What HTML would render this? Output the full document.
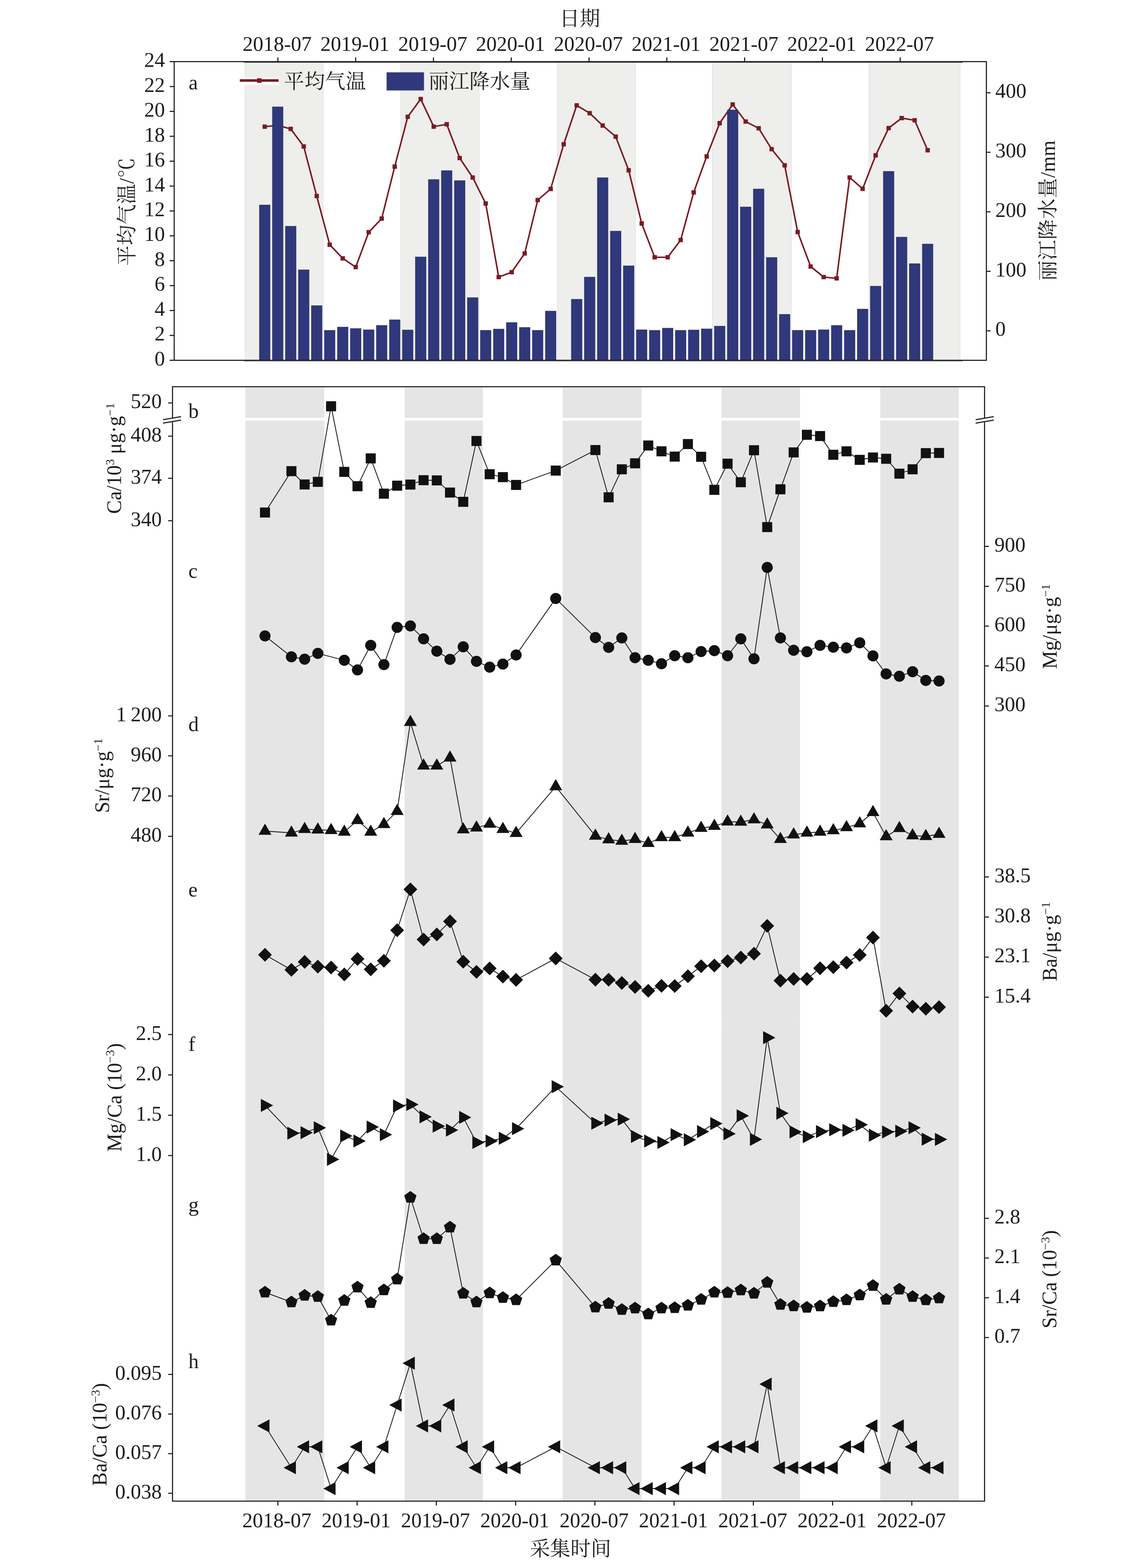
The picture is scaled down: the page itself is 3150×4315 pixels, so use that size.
<!DOCTYPE html>
<html lang="zh"><head><meta charset="utf-8"><title>chart</title>
<style>html,body{margin:0;padding:0;background:#fff}body{width:3150px;height:4315px;overflow:hidden;font-family:"Liberation Serif",serif}</style>
</head><body>
<svg width="3150" height="4315" viewBox="0 0 3150 4315" font-family="'Liberation Serif', serif" fill="#211d1e" style="display:block;font-kerning:none;will-change:transform">
<rect x="674.20" y="170.60" width="215.10" height="820.90" fill="#eeeeec" stroke="#dedede" stroke-width="1.2"/>
<rect x="1102.50" y="170.60" width="216.00" height="820.90" fill="#eeeeec" stroke="#dedede" stroke-width="1.2"/>
<rect x="1533.00" y="170.60" width="215.50" height="820.90" fill="#eeeeec" stroke="#dedede" stroke-width="1.2"/>
<rect x="1959.50" y="170.60" width="218.00" height="820.90" fill="#eeeeec" stroke="#dedede" stroke-width="1.2"/>
<rect x="2390.50" y="170.60" width="251.00" height="820.90" fill="#eeeeec" stroke="#dedede" stroke-width="1.2"/>
<polyline points="728.3,348.6 764.1,345.0 799.8,354.7 835.6,403.0 871.3,539.5 907.1,673.5 942.9,711.0 978.6,735.0 1014.4,639.0 1050.1,601.5 1085.9,458.5 1121.7,321.5 1157.4,272.5 1193.2,348.5 1228.9,342.0 1264.7,435.0 1300.5,488.5 1336.2,560.0 1372.0,762.5 1407.7,749.0 1443.5,697.5 1479.3,550.5 1515.0,520.0 1550.8,397.0 1586.5,290.0 1622.3,311.5 1658.1,345.5 1693.8,376.0 1729.6,468.5 1765.3,615.0 1801.1,708.0 1836.9,708.0 1872.6,660.5 1908.4,529.5 1944.1,430.5 1979.9,339.0 2015.7,287.5 2051.4,334.5 2087.2,353.0 2122.9,410.5 2158.7,455.0 2194.5,638.5 2230.2,733.5 2266.0,762.5 2301.7,766.0 2337.5,488.5 2373.3,519.5 2409.0,427.5 2444.8,352.5 2480.5,325.0 2516.3,331.0 2552.1,413.5" fill="none" stroke="#7a1c23" stroke-width="4.2" stroke-linejoin="round"/>
<rect x="722.30" y="342.60" width="12.00" height="12.00" fill="#7a1c23" />
<rect x="758.06" y="339.00" width="12.00" height="12.00" fill="#7a1c23" />
<rect x="793.82" y="348.70" width="12.00" height="12.00" fill="#7a1c23" />
<rect x="829.58" y="397.00" width="12.00" height="12.00" fill="#7a1c23" />
<rect x="865.34" y="533.50" width="12.00" height="12.00" fill="#7a1c23" />
<rect x="901.10" y="667.50" width="12.00" height="12.00" fill="#7a1c23" />
<rect x="936.86" y="705.00" width="12.00" height="12.00" fill="#7a1c23" />
<rect x="972.62" y="729.00" width="12.00" height="12.00" fill="#7a1c23" />
<rect x="1008.38" y="633.00" width="12.00" height="12.00" fill="#7a1c23" />
<rect x="1044.14" y="595.50" width="12.00" height="12.00" fill="#7a1c23" />
<rect x="1079.90" y="452.50" width="12.00" height="12.00" fill="#7a1c23" />
<rect x="1115.66" y="315.50" width="12.00" height="12.00" fill="#7a1c23" />
<rect x="1151.42" y="266.50" width="12.00" height="12.00" fill="#7a1c23" />
<rect x="1187.18" y="342.50" width="12.00" height="12.00" fill="#7a1c23" />
<rect x="1222.94" y="336.00" width="12.00" height="12.00" fill="#7a1c23" />
<rect x="1258.70" y="429.00" width="12.00" height="12.00" fill="#7a1c23" />
<rect x="1294.46" y="482.50" width="12.00" height="12.00" fill="#7a1c23" />
<rect x="1330.22" y="554.00" width="12.00" height="12.00" fill="#7a1c23" />
<rect x="1365.98" y="756.50" width="12.00" height="12.00" fill="#7a1c23" />
<rect x="1401.74" y="743.00" width="12.00" height="12.00" fill="#7a1c23" />
<rect x="1437.50" y="691.50" width="12.00" height="12.00" fill="#7a1c23" />
<rect x="1473.26" y="544.50" width="12.00" height="12.00" fill="#7a1c23" />
<rect x="1509.02" y="514.00" width="12.00" height="12.00" fill="#7a1c23" />
<rect x="1544.78" y="391.00" width="12.00" height="12.00" fill="#7a1c23" />
<rect x="1580.54" y="284.00" width="12.00" height="12.00" fill="#7a1c23" />
<rect x="1616.30" y="305.50" width="12.00" height="12.00" fill="#7a1c23" />
<rect x="1652.06" y="339.50" width="12.00" height="12.00" fill="#7a1c23" />
<rect x="1687.82" y="370.00" width="12.00" height="12.00" fill="#7a1c23" />
<rect x="1723.58" y="462.50" width="12.00" height="12.00" fill="#7a1c23" />
<rect x="1759.34" y="609.00" width="12.00" height="12.00" fill="#7a1c23" />
<rect x="1795.10" y="702.00" width="12.00" height="12.00" fill="#7a1c23" />
<rect x="1830.86" y="702.00" width="12.00" height="12.00" fill="#7a1c23" />
<rect x="1866.62" y="654.50" width="12.00" height="12.00" fill="#7a1c23" />
<rect x="1902.38" y="523.50" width="12.00" height="12.00" fill="#7a1c23" />
<rect x="1938.14" y="424.50" width="12.00" height="12.00" fill="#7a1c23" />
<rect x="1973.90" y="333.00" width="12.00" height="12.00" fill="#7a1c23" />
<rect x="2009.66" y="281.50" width="12.00" height="12.00" fill="#7a1c23" />
<rect x="2045.42" y="328.50" width="12.00" height="12.00" fill="#7a1c23" />
<rect x="2081.18" y="347.00" width="12.00" height="12.00" fill="#7a1c23" />
<rect x="2116.94" y="404.50" width="12.00" height="12.00" fill="#7a1c23" />
<rect x="2152.70" y="449.00" width="12.00" height="12.00" fill="#7a1c23" />
<rect x="2188.46" y="632.50" width="12.00" height="12.00" fill="#7a1c23" />
<rect x="2224.22" y="727.50" width="12.00" height="12.00" fill="#7a1c23" />
<rect x="2259.98" y="756.50" width="12.00" height="12.00" fill="#7a1c23" />
<rect x="2295.74" y="760.00" width="12.00" height="12.00" fill="#7a1c23" />
<rect x="2331.50" y="482.50" width="12.00" height="12.00" fill="#7a1c23" />
<rect x="2367.26" y="513.50" width="12.00" height="12.00" fill="#7a1c23" />
<rect x="2403.02" y="421.50" width="12.00" height="12.00" fill="#7a1c23" />
<rect x="2438.78" y="346.50" width="12.00" height="12.00" fill="#7a1c23" />
<rect x="2474.54" y="319.00" width="12.00" height="12.00" fill="#7a1c23" />
<rect x="2510.30" y="325.00" width="12.00" height="12.00" fill="#7a1c23" />
<rect x="2546.06" y="407.50" width="12.00" height="12.00" fill="#7a1c23" />
<rect x="713.60" y="564.00" width="29.40" height="427.50" fill="#2f387a" stroke="#262c66" stroke-width="1.2" stroke-opacity="0.8"/>
<rect x="749.36" y="294.00" width="29.40" height="697.50" fill="#2f387a" stroke="#262c66" stroke-width="1.2" stroke-opacity="0.8"/>
<rect x="785.12" y="622.50" width="29.40" height="369.00" fill="#2f387a" stroke="#262c66" stroke-width="1.2" stroke-opacity="0.8"/>
<rect x="820.88" y="742.50" width="29.40" height="249.00" fill="#2f387a" stroke="#262c66" stroke-width="1.2" stroke-opacity="0.8"/>
<rect x="856.64" y="841.00" width="29.40" height="150.50" fill="#2f387a" stroke="#262c66" stroke-width="1.2" stroke-opacity="0.8"/>
<rect x="892.40" y="909.00" width="29.40" height="82.50" fill="#2f387a" stroke="#262c66" stroke-width="1.2" stroke-opacity="0.8"/>
<rect x="928.16" y="900.00" width="29.40" height="91.50" fill="#2f387a" stroke="#262c66" stroke-width="1.2" stroke-opacity="0.8"/>
<rect x="963.92" y="904.00" width="29.40" height="87.50" fill="#2f387a" stroke="#262c66" stroke-width="1.2" stroke-opacity="0.8"/>
<rect x="999.68" y="907.50" width="29.40" height="84.00" fill="#2f387a" stroke="#262c66" stroke-width="1.2" stroke-opacity="0.8"/>
<rect x="1035.44" y="895.50" width="29.40" height="96.00" fill="#2f387a" stroke="#262c66" stroke-width="1.2" stroke-opacity="0.8"/>
<rect x="1071.20" y="880.00" width="29.40" height="111.50" fill="#2f387a" stroke="#262c66" stroke-width="1.2" stroke-opacity="0.8"/>
<rect x="1106.96" y="908.00" width="29.40" height="83.50" fill="#2f387a" stroke="#262c66" stroke-width="1.2" stroke-opacity="0.8"/>
<rect x="1142.72" y="707.00" width="29.40" height="284.50" fill="#2f387a" stroke="#262c66" stroke-width="1.2" stroke-opacity="0.8"/>
<rect x="1178.48" y="494.00" width="29.40" height="497.50" fill="#2f387a" stroke="#262c66" stroke-width="1.2" stroke-opacity="0.8"/>
<rect x="1214.24" y="469.50" width="29.40" height="522.00" fill="#2f387a" stroke="#262c66" stroke-width="1.2" stroke-opacity="0.8"/>
<rect x="1250.00" y="497.00" width="29.40" height="494.50" fill="#2f387a" stroke="#262c66" stroke-width="1.2" stroke-opacity="0.8"/>
<rect x="1285.76" y="819.00" width="29.40" height="172.50" fill="#2f387a" stroke="#262c66" stroke-width="1.2" stroke-opacity="0.8"/>
<rect x="1321.52" y="909.00" width="29.40" height="82.50" fill="#2f387a" stroke="#262c66" stroke-width="1.2" stroke-opacity="0.8"/>
<rect x="1357.28" y="905.50" width="29.40" height="86.00" fill="#2f387a" stroke="#262c66" stroke-width="1.2" stroke-opacity="0.8"/>
<rect x="1393.04" y="887.50" width="29.40" height="104.00" fill="#2f387a" stroke="#262c66" stroke-width="1.2" stroke-opacity="0.8"/>
<rect x="1428.80" y="901.00" width="29.40" height="90.50" fill="#2f387a" stroke="#262c66" stroke-width="1.2" stroke-opacity="0.8"/>
<rect x="1464.56" y="909.00" width="29.40" height="82.50" fill="#2f387a" stroke="#262c66" stroke-width="1.2" stroke-opacity="0.8"/>
<rect x="1500.32" y="856.00" width="29.40" height="135.50" fill="#2f387a" stroke="#262c66" stroke-width="1.2" stroke-opacity="0.8"/>
<rect x="1571.84" y="823.50" width="29.40" height="168.00" fill="#2f387a" stroke="#262c66" stroke-width="1.2" stroke-opacity="0.8"/>
<rect x="1607.60" y="762.50" width="29.40" height="229.00" fill="#2f387a" stroke="#262c66" stroke-width="1.2" stroke-opacity="0.8"/>
<rect x="1643.36" y="489.00" width="29.40" height="502.50" fill="#2f387a" stroke="#262c66" stroke-width="1.2" stroke-opacity="0.8"/>
<rect x="1679.12" y="636.00" width="29.40" height="355.50" fill="#2f387a" stroke="#262c66" stroke-width="1.2" stroke-opacity="0.8"/>
<rect x="1714.88" y="731.50" width="29.40" height="260.00" fill="#2f387a" stroke="#262c66" stroke-width="1.2" stroke-opacity="0.8"/>
<rect x="1750.64" y="907.50" width="29.40" height="84.00" fill="#2f387a" stroke="#262c66" stroke-width="1.2" stroke-opacity="0.8"/>
<rect x="1786.40" y="909.00" width="29.40" height="82.50" fill="#2f387a" stroke="#262c66" stroke-width="1.2" stroke-opacity="0.8"/>
<rect x="1822.16" y="903.00" width="29.40" height="88.50" fill="#2f387a" stroke="#262c66" stroke-width="1.2" stroke-opacity="0.8"/>
<rect x="1857.92" y="909.00" width="29.40" height="82.50" fill="#2f387a" stroke="#262c66" stroke-width="1.2" stroke-opacity="0.8"/>
<rect x="1893.68" y="908.00" width="29.40" height="83.50" fill="#2f387a" stroke="#262c66" stroke-width="1.2" stroke-opacity="0.8"/>
<rect x="1929.44" y="905.00" width="29.40" height="86.50" fill="#2f387a" stroke="#262c66" stroke-width="1.2" stroke-opacity="0.8"/>
<rect x="1965.20" y="897.50" width="29.40" height="94.00" fill="#2f387a" stroke="#262c66" stroke-width="1.2" stroke-opacity="0.8"/>
<rect x="2000.96" y="302.50" width="29.40" height="689.00" fill="#2f387a" stroke="#262c66" stroke-width="1.2" stroke-opacity="0.8"/>
<rect x="2036.72" y="569.50" width="29.40" height="422.00" fill="#2f387a" stroke="#262c66" stroke-width="1.2" stroke-opacity="0.8"/>
<rect x="2072.48" y="520.00" width="29.40" height="471.50" fill="#2f387a" stroke="#262c66" stroke-width="1.2" stroke-opacity="0.8"/>
<rect x="2108.24" y="708.50" width="29.40" height="283.00" fill="#2f387a" stroke="#262c66" stroke-width="1.2" stroke-opacity="0.8"/>
<rect x="2144.00" y="865.00" width="29.40" height="126.50" fill="#2f387a" stroke="#262c66" stroke-width="1.2" stroke-opacity="0.8"/>
<rect x="2179.76" y="909.00" width="29.40" height="82.50" fill="#2f387a" stroke="#262c66" stroke-width="1.2" stroke-opacity="0.8"/>
<rect x="2215.52" y="909.00" width="29.40" height="82.50" fill="#2f387a" stroke="#262c66" stroke-width="1.2" stroke-opacity="0.8"/>
<rect x="2251.28" y="907.50" width="29.40" height="84.00" fill="#2f387a" stroke="#262c66" stroke-width="1.2" stroke-opacity="0.8"/>
<rect x="2287.04" y="895.50" width="29.40" height="96.00" fill="#2f387a" stroke="#262c66" stroke-width="1.2" stroke-opacity="0.8"/>
<rect x="2322.80" y="909.00" width="29.40" height="82.50" fill="#2f387a" stroke="#262c66" stroke-width="1.2" stroke-opacity="0.8"/>
<rect x="2358.56" y="850.50" width="29.40" height="141.00" fill="#2f387a" stroke="#262c66" stroke-width="1.2" stroke-opacity="0.8"/>
<rect x="2394.32" y="787.50" width="29.40" height="204.00" fill="#2f387a" stroke="#262c66" stroke-width="1.2" stroke-opacity="0.8"/>
<rect x="2430.08" y="471.50" width="29.40" height="520.00" fill="#2f387a" stroke="#262c66" stroke-width="1.2" stroke-opacity="0.8"/>
<rect x="2465.84" y="652.50" width="29.40" height="339.00" fill="#2f387a" stroke="#262c66" stroke-width="1.2" stroke-opacity="0.8"/>
<rect x="2501.60" y="725.50" width="29.40" height="266.00" fill="#2f387a" stroke="#262c66" stroke-width="1.2" stroke-opacity="0.8"/>
<rect x="2537.36" y="671.50" width="29.40" height="320.00" fill="#2f387a" stroke="#262c66" stroke-width="1.2" stroke-opacity="0.8"/>
<line x1="671.00" y1="993.80" x2="2648.70" y2="993.80" stroke="#8e8e8e" stroke-width="2.0" />
<line x1="671.00" y1="171.70" x2="2648.40" y2="171.70" stroke="#3a3636" stroke-width="1.4" />
<rect x="479.20" y="169.60" width="2234.40" height="821.90" fill="none" stroke="#211d1e" stroke-width="3"/>
<line x1="466.70" y1="991.50" x2="479.20" y2="991.50" stroke="#211d1e" stroke-width="3" />
<text x="453.7" y="1005.9" font-size="57" text-anchor="end" >0</text>
<line x1="466.70" y1="923.01" x2="479.20" y2="923.01" stroke="#211d1e" stroke-width="3" />
<text x="453.7" y="937.4" font-size="57" text-anchor="end" >2</text>
<line x1="466.70" y1="854.52" x2="479.20" y2="854.52" stroke="#211d1e" stroke-width="3" />
<text x="453.7" y="868.9" font-size="57" text-anchor="end" >4</text>
<line x1="466.70" y1="786.02" x2="479.20" y2="786.02" stroke="#211d1e" stroke-width="3" />
<text x="453.7" y="800.4" font-size="57" text-anchor="end" >6</text>
<line x1="466.70" y1="717.53" x2="479.20" y2="717.53" stroke="#211d1e" stroke-width="3" />
<text x="453.7" y="731.9" font-size="57" text-anchor="end" >8</text>
<line x1="466.70" y1="649.04" x2="479.20" y2="649.04" stroke="#211d1e" stroke-width="3" />
<text x="453.7" y="663.4" font-size="57" text-anchor="end" >10</text>
<line x1="466.70" y1="580.55" x2="479.20" y2="580.55" stroke="#211d1e" stroke-width="3" />
<text x="453.7" y="594.9" font-size="57" text-anchor="end" >12</text>
<line x1="466.70" y1="512.06" x2="479.20" y2="512.06" stroke="#211d1e" stroke-width="3" />
<text x="453.7" y="526.5" font-size="57" text-anchor="end" >14</text>
<line x1="466.70" y1="443.57" x2="479.20" y2="443.57" stroke="#211d1e" stroke-width="3" />
<text x="453.7" y="458.0" font-size="57" text-anchor="end" >16</text>
<line x1="466.70" y1="375.08" x2="479.20" y2="375.08" stroke="#211d1e" stroke-width="3" />
<text x="453.7" y="389.5" font-size="57" text-anchor="end" >18</text>
<line x1="466.70" y1="306.58" x2="479.20" y2="306.58" stroke="#211d1e" stroke-width="3" />
<text x="453.7" y="321.0" font-size="57" text-anchor="end" >20</text>
<line x1="466.70" y1="238.09" x2="479.20" y2="238.09" stroke="#211d1e" stroke-width="3" />
<text x="453.7" y="252.5" font-size="57" text-anchor="end" >22</text>
<line x1="466.70" y1="169.60" x2="479.20" y2="169.60" stroke="#211d1e" stroke-width="3" />
<text x="453.7" y="184.0" font-size="57" text-anchor="end" >24</text>
<line x1="2713.60" y1="910.40" x2="2725.20" y2="910.40" stroke="#211d1e" stroke-width="3" />
<text x="2738.3" y="924.3" font-size="57" text-anchor="start" >0</text>
<line x1="2713.60" y1="746.60" x2="2725.20" y2="746.60" stroke="#211d1e" stroke-width="3" />
<text x="2738.3" y="760.5" font-size="57" text-anchor="start" >100</text>
<line x1="2713.60" y1="582.90" x2="2725.20" y2="582.90" stroke="#211d1e" stroke-width="3" />
<text x="2738.3" y="596.8" font-size="57" text-anchor="start" >200</text>
<line x1="2713.60" y1="419.10" x2="2725.20" y2="419.10" stroke="#211d1e" stroke-width="3" />
<text x="2738.3" y="433.0" font-size="57" text-anchor="start" >300</text>
<line x1="2713.60" y1="255.30" x2="2725.20" y2="255.30" stroke="#211d1e" stroke-width="3" />
<text x="2738.3" y="269.2" font-size="57" text-anchor="start" >400</text>
<line x1="764.50" y1="158.10" x2="764.50" y2="169.60" stroke="#211d1e" stroke-width="3" />
<text x="762.6" y="140.3" font-size="57" text-anchor="middle" >2018-07</text>
<line x1="978.50" y1="158.10" x2="978.50" y2="169.60" stroke="#211d1e" stroke-width="3" />
<text x="976.6" y="140.3" font-size="57" text-anchor="middle" >2019-01</text>
<line x1="1192.50" y1="158.10" x2="1192.50" y2="169.60" stroke="#211d1e" stroke-width="3" />
<text x="1190.6" y="140.3" font-size="57" text-anchor="middle" >2019-07</text>
<line x1="1406.50" y1="158.10" x2="1406.50" y2="169.60" stroke="#211d1e" stroke-width="3" />
<text x="1404.6" y="140.3" font-size="57" text-anchor="middle" >2020-01</text>
<line x1="1620.50" y1="158.10" x2="1620.50" y2="169.60" stroke="#211d1e" stroke-width="3" />
<text x="1618.6" y="140.3" font-size="57" text-anchor="middle" >2020-07</text>
<line x1="1834.50" y1="158.10" x2="1834.50" y2="169.60" stroke="#211d1e" stroke-width="3" />
<text x="1832.6" y="140.3" font-size="57" text-anchor="middle" >2021-01</text>
<line x1="2048.50" y1="158.10" x2="2048.50" y2="169.60" stroke="#211d1e" stroke-width="3" />
<text x="2046.6" y="140.3" font-size="57" text-anchor="middle" >2021-07</text>
<line x1="2262.50" y1="158.10" x2="2262.50" y2="169.60" stroke="#211d1e" stroke-width="3" />
<text x="2260.6" y="140.3" font-size="57" text-anchor="middle" >2022-01</text>
<line x1="2476.50" y1="158.10" x2="2476.50" y2="169.60" stroke="#211d1e" stroke-width="3" />
<text x="2474.6" y="140.3" font-size="57" text-anchor="middle" >2022-07</text>
<rect x="657.80" y="213.00" width="111.40" height="20.00" fill="#ffffff" />
<line x1="659.80" y1="221.60" x2="766.60" y2="221.60" stroke="#7a1c23" stroke-width="7.0" />
<rect x="707.00" y="215.30" width="12.60" height="12.60" fill="#7a1c23" />
<text x="780.95" y="243.48" font-size="56" letter-spacing="0.7" font-family="'Liberation Serif', 'Noto Serif CJK SC', serif" fill="#211d1e">平均气温</text>
<rect x="1064.00" y="199.50" width="102.00" height="49.00" fill="#2f387a" stroke="#4a5088" stroke-width="1.6" stroke-opacity="0.75"/>
<text x="1179.10" y="243.48" font-size="56" letter-spacing="0.1" font-family="'Liberation Serif', 'Noto Serif CJK SC', serif" fill="#211d1e">丽江降水量</text>
<text x="519.0" y="245.7" font-size="57" text-anchor="start" >a</text>
<text x="1539.00" y="70.28" font-size="56" font-family="'Liberation Serif', 'Noto Serif CJK SC', serif" fill="#211d1e">日期</text>
<g fill="#211d1e" transform="rotate(-90 347.20 582.60)"><text x="198.42" y="603.88" font-size="56" letter-spacing="0.5" font-family="'Liberation Serif', 'Noto Serif CJK SC', serif">平均气温</text><text x="424.17" y="603.88" font-size="56">/</text><text x="439.98" y="603.88" font-size="56" font-family="'Liberation Serif', 'Noto Serif CJK SC', serif">℃</text></g>
<g fill="#211d1e" transform="rotate(-90 2881.00 579.80)"><text x="2688.06" y="601.08" font-size="56" letter-spacing="0.8" font-family="'Liberation Serif', 'Noto Serif CJK SC', serif">丽江降水量</text><text x="2971.66" y="601.08" font-size="56">/mm</text></g>
<rect x="675.00" y="1065.70" width="217.00" height="84.30" fill="#e6e5e5" />
<rect x="675.00" y="1157.50" width="217.00" height="2973.50" fill="#e6e5e5" />
<line x1="675.00" y1="2817.50" x2="892.00" y2="2817.50" stroke="#ececec" stroke-width="1" />
<rect x="1113.00" y="1065.70" width="215.50" height="84.30" fill="#e6e5e5" />
<rect x="1113.00" y="1157.50" width="215.50" height="2973.50" fill="#e6e5e5" />
<line x1="1113.00" y1="2817.50" x2="1328.50" y2="2817.50" stroke="#ececec" stroke-width="1" />
<rect x="1548.00" y="1065.70" width="217.00" height="84.30" fill="#e6e5e5" />
<rect x="1548.00" y="1157.50" width="217.00" height="2973.50" fill="#e6e5e5" />
<line x1="1548.00" y1="2817.50" x2="1765.00" y2="2817.50" stroke="#ececec" stroke-width="1" />
<rect x="1985.00" y="1065.70" width="216.00" height="84.30" fill="#e6e5e5" />
<rect x="1985.00" y="1157.50" width="216.00" height="2973.50" fill="#e6e5e5" />
<line x1="1985.00" y1="2817.50" x2="2201.00" y2="2817.50" stroke="#ececec" stroke-width="1" />
<rect x="2421.50" y="1065.70" width="216.50" height="84.30" fill="#e6e5e5" />
<rect x="2421.50" y="1157.50" width="216.50" height="2973.50" fill="#e6e5e5" />
<line x1="2421.50" y1="2817.50" x2="2638.00" y2="2817.50" stroke="#ececec" stroke-width="1" />
<polyline points="729.0,1410.4 801.7,1296.6 838.1,1333.2 874.4,1326.0 910.8,1118.0 947.2,1298.5 983.5,1338.0 1019.9,1261.5 1056.2,1358.5 1092.6,1336.5 1129.0,1333.5 1165.3,1321.5 1201.7,1322.0 1238.0,1355.5 1274.4,1381.0 1310.8,1213.5 1347.1,1305.0 1383.5,1313.0 1419.8,1334.5 1528.9,1295.0 1638.0,1238.5 1674.4,1368.5 1710.7,1291.5 1747.1,1275.0 1783.4,1226.0 1819.8,1242.0 1856.2,1256.5 1892.5,1222.0 1928.9,1257.0 1965.2,1348.0 2001.6,1276.0 2038.0,1327.0 2074.3,1239.0 2110.7,1450.5 2147.0,1346.5 2183.4,1245.0 2219.8,1196.5 2256.1,1200.0 2292.5,1251.5 2328.8,1242.0 2365.2,1265.5 2401.6,1259.0 2437.9,1262.5 2474.3,1303.5 2510.6,1291.5 2547.0,1247.0 2583.4,1246.5" fill="none" stroke="#1c1c1c" stroke-width="2.3" stroke-linejoin="round"/>
<g fill="#111111"><rect x="715.2" y="1396.6" width="27.6" height="27.6"/><rect x="787.9" y="1282.8" width="27.6" height="27.6"/><rect x="824.3" y="1319.4" width="27.6" height="27.6"/><rect x="860.6" y="1312.2" width="27.6" height="27.6"/><rect x="897.0" y="1104.2" width="27.6" height="27.6"/><rect x="933.4" y="1284.7" width="27.6" height="27.6"/><rect x="969.7" y="1324.2" width="27.6" height="27.6"/><rect x="1006.1" y="1247.7" width="27.6" height="27.6"/><rect x="1042.4" y="1344.7" width="27.6" height="27.6"/><rect x="1078.8" y="1322.7" width="27.6" height="27.6"/><rect x="1115.2" y="1319.7" width="27.6" height="27.6"/><rect x="1151.5" y="1307.7" width="27.6" height="27.6"/><rect x="1187.9" y="1308.2" width="27.6" height="27.6"/><rect x="1224.2" y="1341.7" width="27.6" height="27.6"/><rect x="1260.6" y="1367.2" width="27.6" height="27.6"/><rect x="1297.0" y="1199.7" width="27.6" height="27.6"/><rect x="1333.3" y="1291.2" width="27.6" height="27.6"/><rect x="1369.7" y="1299.2" width="27.6" height="27.6"/><rect x="1406.0" y="1320.7" width="27.6" height="27.6"/><rect x="1515.1" y="1281.2" width="27.6" height="27.6"/><rect x="1624.2" y="1224.7" width="27.6" height="27.6"/><rect x="1660.6" y="1354.7" width="27.6" height="27.6"/><rect x="1696.9" y="1277.7" width="27.6" height="27.6"/><rect x="1733.3" y="1261.2" width="27.6" height="27.6"/><rect x="1769.6" y="1212.2" width="27.6" height="27.6"/><rect x="1806.0" y="1228.2" width="27.6" height="27.6"/><rect x="1842.4" y="1242.7" width="27.6" height="27.6"/><rect x="1878.7" y="1208.2" width="27.6" height="27.6"/><rect x="1915.1" y="1243.2" width="27.6" height="27.6"/><rect x="1951.4" y="1334.2" width="27.6" height="27.6"/><rect x="1987.8" y="1262.2" width="27.6" height="27.6"/><rect x="2024.2" y="1313.2" width="27.6" height="27.6"/><rect x="2060.5" y="1225.2" width="27.6" height="27.6"/><rect x="2096.9" y="1436.7" width="27.6" height="27.6"/><rect x="2133.2" y="1332.7" width="27.6" height="27.6"/><rect x="2169.6" y="1231.2" width="27.6" height="27.6"/><rect x="2206.0" y="1182.7" width="27.6" height="27.6"/><rect x="2242.3" y="1186.2" width="27.6" height="27.6"/><rect x="2278.7" y="1237.7" width="27.6" height="27.6"/><rect x="2315.0" y="1228.2" width="27.6" height="27.6"/><rect x="2351.4" y="1251.7" width="27.6" height="27.6"/><rect x="2387.8" y="1245.2" width="27.6" height="27.6"/><rect x="2424.1" y="1248.7" width="27.6" height="27.6"/><rect x="2460.5" y="1289.7" width="27.6" height="27.6"/><rect x="2496.8" y="1277.7" width="27.6" height="27.6"/><rect x="2533.2" y="1233.2" width="27.6" height="27.6"/><rect x="2569.6" y="1232.7" width="27.6" height="27.6"/></g>
<polyline points="729.0,1750.0 801.7,1807.5 838.1,1814.0 874.4,1798.0 947.2,1817.0 983.5,1843.5 1019.9,1776.0 1056.2,1829.0 1092.6,1726.5 1129.0,1722.5 1165.3,1758.0 1201.7,1792.0 1238.0,1814.5 1274.4,1780.0 1310.8,1820.0 1347.1,1836.0 1383.5,1827.5 1419.8,1802.5 1528.9,1647.0 1638.0,1754.5 1674.4,1781.5 1710.7,1755.5 1747.1,1810.0 1783.4,1817.0 1819.8,1826.5 1856.2,1804.5 1892.5,1810.0 1928.9,1793.0 1965.2,1790.5 2001.6,1804.5 2038.0,1758.0 2074.3,1813.0 2110.7,1561.5 2147.0,1755.5 2183.4,1789.5 2219.8,1793.5 2256.1,1776.0 2292.5,1781.0 2328.8,1783.0 2365.2,1769.0 2401.6,1805.0 2437.9,1854.5 2474.3,1861.0 2510.6,1848.5 2547.0,1872.5 2583.4,1874.0" fill="none" stroke="#1c1c1c" stroke-width="2.3" stroke-linejoin="round"/>
<g fill="#111111"><circle cx="729.0" cy="1750.0" r="15.3"/><circle cx="801.7" cy="1807.5" r="15.3"/><circle cx="838.1" cy="1814.0" r="15.3"/><circle cx="874.4" cy="1798.0" r="15.3"/><circle cx="947.2" cy="1817.0" r="15.3"/><circle cx="983.5" cy="1843.5" r="15.3"/><circle cx="1019.9" cy="1776.0" r="15.3"/><circle cx="1056.2" cy="1829.0" r="15.3"/><circle cx="1092.6" cy="1726.5" r="15.3"/><circle cx="1129.0" cy="1722.5" r="15.3"/><circle cx="1165.3" cy="1758.0" r="15.3"/><circle cx="1201.7" cy="1792.0" r="15.3"/><circle cx="1238.0" cy="1814.5" r="15.3"/><circle cx="1274.4" cy="1780.0" r="15.3"/><circle cx="1310.8" cy="1820.0" r="15.3"/><circle cx="1347.1" cy="1836.0" r="15.3"/><circle cx="1383.5" cy="1827.5" r="15.3"/><circle cx="1419.8" cy="1802.5" r="15.3"/><circle cx="1528.9" cy="1647.0" r="15.3"/><circle cx="1638.0" cy="1754.5" r="15.3"/><circle cx="1674.4" cy="1781.5" r="15.3"/><circle cx="1710.7" cy="1755.5" r="15.3"/><circle cx="1747.1" cy="1810.0" r="15.3"/><circle cx="1783.4" cy="1817.0" r="15.3"/><circle cx="1819.8" cy="1826.5" r="15.3"/><circle cx="1856.2" cy="1804.5" r="15.3"/><circle cx="1892.5" cy="1810.0" r="15.3"/><circle cx="1928.9" cy="1793.0" r="15.3"/><circle cx="1965.2" cy="1790.5" r="15.3"/><circle cx="2001.6" cy="1804.5" r="15.3"/><circle cx="2038.0" cy="1758.0" r="15.3"/><circle cx="2074.3" cy="1813.0" r="15.3"/><circle cx="2110.7" cy="1561.5" r="15.3"/><circle cx="2147.0" cy="1755.5" r="15.3"/><circle cx="2183.4" cy="1789.5" r="15.3"/><circle cx="2219.8" cy="1793.5" r="15.3"/><circle cx="2256.1" cy="1776.0" r="15.3"/><circle cx="2292.5" cy="1781.0" r="15.3"/><circle cx="2328.8" cy="1783.0" r="15.3"/><circle cx="2365.2" cy="1769.0" r="15.3"/><circle cx="2401.6" cy="1805.0" r="15.3"/><circle cx="2437.9" cy="1854.5" r="15.3"/><circle cx="2474.3" cy="1861.0" r="15.3"/><circle cx="2510.6" cy="1848.5" r="15.3"/><circle cx="2547.0" cy="1872.5" r="15.3"/><circle cx="2583.4" cy="1874.0" r="15.3"/></g>
<polyline points="729.0,2287.0 801.7,2292.0 838.1,2282.0 874.4,2283.5 910.8,2285.0 947.2,2289.5 983.5,2257.5 1019.9,2289.5 1056.2,2268.5 1092.6,2232.5 1129.0,1987.5 1165.3,2107.5 1201.7,2107.5 1238.0,2085.5 1274.4,2283.0 1310.8,2278.0 1347.1,2267.5 1383.5,2282.0 1419.8,2293.0 1528.9,2164.5 1638.0,2300.5 1674.4,2310.5 1710.7,2314.5 1747.1,2309.5 1783.4,2320.5 1819.8,2304.5 1856.2,2304.5 1892.5,2292.0 1928.9,2279.0 1965.2,2273.5 2001.6,2261.5 2038.0,2262.0 2074.3,2255.5 2110.7,2269.5 2147.0,2309.5 2183.4,2297.0 2219.8,2292.0 2256.1,2289.5 2292.5,2285.5 2328.8,2277.0 2365.2,2266.5 2401.6,2235.5 2437.9,2302.0 2474.3,2279.5 2510.6,2299.5 2547.0,2301.5 2583.4,2295.5" fill="none" stroke="#1c1c1c" stroke-width="2.3" stroke-linejoin="round"/>
<g fill="#111111"><polygon points="729.0,2266.4 711.2,2297.3 746.8,2297.3"/><polygon points="801.7,2271.4 783.9,2302.3 819.5,2302.3"/><polygon points="838.1,2261.4 820.3,2292.3 855.9,2292.3"/><polygon points="874.4,2262.9 856.6,2293.8 892.2,2293.8"/><polygon points="910.8,2264.4 893.0,2295.3 928.6,2295.3"/><polygon points="947.2,2268.9 929.4,2299.8 965.0,2299.8"/><polygon points="983.5,2236.9 965.7,2267.8 1001.3,2267.8"/><polygon points="1019.9,2268.9 1002.1,2299.8 1037.7,2299.8"/><polygon points="1056.2,2247.9 1038.4,2278.8 1074.0,2278.8"/><polygon points="1092.6,2211.9 1074.8,2242.8 1110.4,2242.8"/><polygon points="1129.0,1966.9 1111.2,1997.8 1146.8,1997.8"/><polygon points="1165.3,2086.9 1147.5,2117.8 1183.1,2117.8"/><polygon points="1201.7,2086.9 1183.9,2117.8 1219.5,2117.8"/><polygon points="1238.0,2064.9 1220.2,2095.8 1255.8,2095.8"/><polygon points="1274.4,2262.4 1256.6,2293.3 1292.2,2293.3"/><polygon points="1310.8,2257.4 1293.0,2288.3 1328.6,2288.3"/><polygon points="1347.1,2246.9 1329.3,2277.8 1364.9,2277.8"/><polygon points="1383.5,2261.4 1365.7,2292.3 1401.3,2292.3"/><polygon points="1419.8,2272.4 1402.0,2303.3 1437.6,2303.3"/><polygon points="1528.9,2143.9 1511.1,2174.8 1546.7,2174.8"/><polygon points="1638.0,2279.9 1620.2,2310.8 1655.8,2310.8"/><polygon points="1674.4,2289.9 1656.6,2320.8 1692.2,2320.8"/><polygon points="1710.7,2293.9 1692.9,2324.8 1728.5,2324.8"/><polygon points="1747.1,2288.9 1729.3,2319.8 1764.9,2319.8"/><polygon points="1783.4,2299.9 1765.6,2330.8 1801.2,2330.8"/><polygon points="1819.8,2283.9 1802.0,2314.8 1837.6,2314.8"/><polygon points="1856.2,2283.9 1838.4,2314.8 1874.0,2314.8"/><polygon points="1892.5,2271.4 1874.7,2302.3 1910.3,2302.3"/><polygon points="1928.9,2258.4 1911.1,2289.3 1946.7,2289.3"/><polygon points="1965.2,2252.9 1947.4,2283.8 1983.0,2283.8"/><polygon points="2001.6,2240.9 1983.8,2271.8 2019.4,2271.8"/><polygon points="2038.0,2241.4 2020.2,2272.3 2055.8,2272.3"/><polygon points="2074.3,2234.9 2056.5,2265.8 2092.1,2265.8"/><polygon points="2110.7,2248.9 2092.9,2279.8 2128.5,2279.8"/><polygon points="2147.0,2288.9 2129.2,2319.8 2164.8,2319.8"/><polygon points="2183.4,2276.4 2165.6,2307.3 2201.2,2307.3"/><polygon points="2219.8,2271.4 2202.0,2302.3 2237.6,2302.3"/><polygon points="2256.1,2268.9 2238.3,2299.8 2273.9,2299.8"/><polygon points="2292.5,2264.9 2274.7,2295.8 2310.3,2295.8"/><polygon points="2328.8,2256.4 2311.0,2287.3 2346.6,2287.3"/><polygon points="2365.2,2245.9 2347.4,2276.8 2383.0,2276.8"/><polygon points="2401.6,2214.9 2383.8,2245.8 2419.4,2245.8"/><polygon points="2437.9,2281.4 2420.1,2312.3 2455.7,2312.3"/><polygon points="2474.3,2258.9 2456.5,2289.8 2492.1,2289.8"/><polygon points="2510.6,2278.9 2492.8,2309.8 2528.4,2309.8"/><polygon points="2547.0,2280.9 2529.2,2311.8 2564.8,2311.8"/><polygon points="2583.4,2274.9 2565.6,2305.8 2601.2,2305.8"/></g>
<polyline points="729.0,2627.5 801.7,2669.0 838.1,2647.0 874.4,2660.0 910.8,2662.5 947.2,2681.5 983.5,2639.0 1019.9,2667.5 1056.2,2644.0 1092.6,2560.0 1129.0,2447.5 1165.3,2585.5 1201.7,2571.5 1238.0,2535.5 1274.4,2646.5 1310.8,2674.5 1347.1,2665.0 1383.5,2687.5 1419.8,2696.5 1528.9,2637.5 1638.0,2696.0 1674.4,2696.0 1710.7,2705.0 1747.1,2716.0 1783.4,2726.5 1819.8,2713.0 1856.2,2713.5 1892.5,2686.5 1928.9,2659.0 1965.2,2657.0 2001.6,2645.0 2038.0,2635.0 2074.3,2624.5 2110.7,2548.0 2147.0,2698.5 2183.4,2694.0 2219.8,2694.0 2256.1,2664.5 2292.5,2661.5 2328.8,2649.0 2365.2,2628.0 2401.6,2580.0 2437.9,2781.5 2474.3,2734.0 2510.6,2770.0 2547.0,2776.0 2583.4,2771.5" fill="none" stroke="#1c1c1c" stroke-width="2.3" stroke-linejoin="round"/>
<g fill="#111111"><polygon points="729.0,2608.5 748.0,2627.5 729.0,2646.5 710.0,2627.5"/><polygon points="801.7,2650.0 820.7,2669.0 801.7,2688.0 782.7,2669.0"/><polygon points="838.1,2628.0 857.1,2647.0 838.1,2666.0 819.1,2647.0"/><polygon points="874.4,2641.0 893.4,2660.0 874.4,2679.0 855.4,2660.0"/><polygon points="910.8,2643.5 929.8,2662.5 910.8,2681.5 891.8,2662.5"/><polygon points="947.2,2662.5 966.2,2681.5 947.2,2700.5 928.2,2681.5"/><polygon points="983.5,2620.0 1002.5,2639.0 983.5,2658.0 964.5,2639.0"/><polygon points="1019.9,2648.5 1038.9,2667.5 1019.9,2686.5 1000.9,2667.5"/><polygon points="1056.2,2625.0 1075.2,2644.0 1056.2,2663.0 1037.2,2644.0"/><polygon points="1092.6,2541.0 1111.6,2560.0 1092.6,2579.0 1073.6,2560.0"/><polygon points="1129.0,2428.5 1148.0,2447.5 1129.0,2466.5 1110.0,2447.5"/><polygon points="1165.3,2566.5 1184.3,2585.5 1165.3,2604.5 1146.3,2585.5"/><polygon points="1201.7,2552.5 1220.7,2571.5 1201.7,2590.5 1182.7,2571.5"/><polygon points="1238.0,2516.5 1257.0,2535.5 1238.0,2554.5 1219.0,2535.5"/><polygon points="1274.4,2627.5 1293.4,2646.5 1274.4,2665.5 1255.4,2646.5"/><polygon points="1310.8,2655.5 1329.8,2674.5 1310.8,2693.5 1291.8,2674.5"/><polygon points="1347.1,2646.0 1366.1,2665.0 1347.1,2684.0 1328.1,2665.0"/><polygon points="1383.5,2668.5 1402.5,2687.5 1383.5,2706.5 1364.5,2687.5"/><polygon points="1419.8,2677.5 1438.8,2696.5 1419.8,2715.5 1400.8,2696.5"/><polygon points="1528.9,2618.5 1547.9,2637.5 1528.9,2656.5 1509.9,2637.5"/><polygon points="1638.0,2677.0 1657.0,2696.0 1638.0,2715.0 1619.0,2696.0"/><polygon points="1674.4,2677.0 1693.4,2696.0 1674.4,2715.0 1655.4,2696.0"/><polygon points="1710.7,2686.0 1729.7,2705.0 1710.7,2724.0 1691.7,2705.0"/><polygon points="1747.1,2697.0 1766.1,2716.0 1747.1,2735.0 1728.1,2716.0"/><polygon points="1783.4,2707.5 1802.4,2726.5 1783.4,2745.5 1764.4,2726.5"/><polygon points="1819.8,2694.0 1838.8,2713.0 1819.8,2732.0 1800.8,2713.0"/><polygon points="1856.2,2694.5 1875.2,2713.5 1856.2,2732.5 1837.2,2713.5"/><polygon points="1892.5,2667.5 1911.5,2686.5 1892.5,2705.5 1873.5,2686.5"/><polygon points="1928.9,2640.0 1947.9,2659.0 1928.9,2678.0 1909.9,2659.0"/><polygon points="1965.2,2638.0 1984.2,2657.0 1965.2,2676.0 1946.2,2657.0"/><polygon points="2001.6,2626.0 2020.6,2645.0 2001.6,2664.0 1982.6,2645.0"/><polygon points="2038.0,2616.0 2057.0,2635.0 2038.0,2654.0 2019.0,2635.0"/><polygon points="2074.3,2605.5 2093.3,2624.5 2074.3,2643.5 2055.3,2624.5"/><polygon points="2110.7,2529.0 2129.7,2548.0 2110.7,2567.0 2091.7,2548.0"/><polygon points="2147.0,2679.5 2166.0,2698.5 2147.0,2717.5 2128.0,2698.5"/><polygon points="2183.4,2675.0 2202.4,2694.0 2183.4,2713.0 2164.4,2694.0"/><polygon points="2219.8,2675.0 2238.8,2694.0 2219.8,2713.0 2200.8,2694.0"/><polygon points="2256.1,2645.5 2275.1,2664.5 2256.1,2683.5 2237.1,2664.5"/><polygon points="2292.5,2642.5 2311.5,2661.5 2292.5,2680.5 2273.5,2661.5"/><polygon points="2328.8,2630.0 2347.8,2649.0 2328.8,2668.0 2309.8,2649.0"/><polygon points="2365.2,2609.0 2384.2,2628.0 2365.2,2647.0 2346.2,2628.0"/><polygon points="2401.6,2561.0 2420.6,2580.0 2401.6,2599.0 2382.6,2580.0"/><polygon points="2437.9,2762.5 2456.9,2781.5 2437.9,2800.5 2418.9,2781.5"/><polygon points="2474.3,2715.0 2493.3,2734.0 2474.3,2753.0 2455.3,2734.0"/><polygon points="2510.6,2751.0 2529.6,2770.0 2510.6,2789.0 2491.6,2770.0"/><polygon points="2547.0,2757.0 2566.0,2776.0 2547.0,2795.0 2528.0,2776.0"/><polygon points="2583.4,2752.5 2602.4,2771.5 2583.4,2790.5 2564.4,2771.5"/></g>
<polyline points="729.0,3042.0 801.7,3118.5 838.1,3117.0 874.4,3103.5 910.8,3190.5 947.2,3126.0 983.5,3140.0 1019.9,3101.5 1056.2,3122.5 1092.6,3043.5 1129.0,3039.5 1165.3,3073.5 1201.7,3099.0 1238.0,3110.0 1274.4,3075.0 1310.8,3144.0 1347.1,3140.0 1383.5,3132.5 1419.8,3106.0 1528.9,2990.5 1638.0,3091.0 1674.4,3082.5 1710.7,3080.0 1747.1,3127.5 1783.4,3140.0 1819.8,3144.0 1856.2,3122.5 1892.5,3136.5 1928.9,3114.0 1965.2,3092.0 2001.6,3120.0 2038.0,3070.5 2074.3,3135.5 2110.7,2855.5 2147.0,3063.5 2183.4,3115.0 2219.8,3128.0 2256.1,3114.0 2292.5,3109.0 2328.8,3110.5 2365.2,3095.0 2401.6,3124.0 2437.9,3115.0 2474.3,3113.0 2510.6,3103.5 2547.0,3135.0 2583.4,3135.5" fill="none" stroke="#1c1c1c" stroke-width="2.3" stroke-linejoin="round"/>
<g fill="#111111"><polygon points="751.5,3042.0 717.7,3024.0 717.7,3060.0"/><polygon points="824.3,3118.5 790.5,3100.5 790.5,3136.5"/><polygon points="860.6,3117.0 826.8,3099.0 826.8,3135.0"/><polygon points="897.0,3103.5 863.2,3085.5 863.2,3121.5"/><polygon points="933.3,3190.5 899.5,3172.5 899.5,3208.5"/><polygon points="969.7,3126.0 935.9,3108.0 935.9,3144.0"/><polygon points="1006.1,3140.0 972.3,3122.0 972.3,3158.0"/><polygon points="1042.4,3101.5 1008.6,3083.5 1008.6,3119.5"/><polygon points="1078.8,3122.5 1045.0,3104.5 1045.0,3140.5"/><polygon points="1115.1,3043.5 1081.3,3025.5 1081.3,3061.5"/><polygon points="1151.5,3039.5 1117.7,3021.5 1117.7,3057.5"/><polygon points="1187.9,3073.5 1154.1,3055.5 1154.1,3091.5"/><polygon points="1224.2,3099.0 1190.4,3081.0 1190.4,3117.0"/><polygon points="1260.6,3110.0 1226.8,3092.0 1226.8,3128.0"/><polygon points="1296.9,3075.0 1263.1,3057.0 1263.1,3093.0"/><polygon points="1333.3,3144.0 1299.5,3126.0 1299.5,3162.0"/><polygon points="1369.7,3140.0 1335.9,3122.0 1335.9,3158.0"/><polygon points="1406.0,3132.5 1372.2,3114.5 1372.2,3150.5"/><polygon points="1442.4,3106.0 1408.6,3088.0 1408.6,3124.0"/><polygon points="1551.5,2990.5 1517.7,2972.5 1517.7,3008.5"/><polygon points="1660.5,3091.0 1626.7,3073.0 1626.7,3109.0"/><polygon points="1696.9,3082.5 1663.1,3064.5 1663.1,3100.5"/><polygon points="1733.3,3080.0 1699.5,3062.0 1699.5,3098.0"/><polygon points="1769.6,3127.5 1735.8,3109.5 1735.8,3145.5"/><polygon points="1806.0,3140.0 1772.2,3122.0 1772.2,3158.0"/><polygon points="1842.3,3144.0 1808.5,3126.0 1808.5,3162.0"/><polygon points="1878.7,3122.5 1844.9,3104.5 1844.9,3140.5"/><polygon points="1915.1,3136.5 1881.3,3118.5 1881.3,3154.5"/><polygon points="1951.4,3114.0 1917.6,3096.0 1917.6,3132.0"/><polygon points="1987.8,3092.0 1954.0,3074.0 1954.0,3110.0"/><polygon points="2024.1,3120.0 1990.3,3102.0 1990.3,3138.0"/><polygon points="2060.5,3070.5 2026.7,3052.5 2026.7,3088.5"/><polygon points="2096.9,3135.5 2063.1,3117.5 2063.1,3153.5"/><polygon points="2133.2,2855.5 2099.4,2837.5 2099.4,2873.5"/><polygon points="2169.6,3063.5 2135.8,3045.5 2135.8,3081.5"/><polygon points="2205.9,3115.0 2172.1,3097.0 2172.1,3133.0"/><polygon points="2242.3,3128.0 2208.5,3110.0 2208.5,3146.0"/><polygon points="2278.7,3114.0 2244.9,3096.0 2244.9,3132.0"/><polygon points="2315.0,3109.0 2281.2,3091.0 2281.2,3127.0"/><polygon points="2351.4,3110.5 2317.6,3092.5 2317.6,3128.5"/><polygon points="2387.7,3095.0 2353.9,3077.0 2353.9,3113.0"/><polygon points="2424.1,3124.0 2390.3,3106.0 2390.3,3142.0"/><polygon points="2460.5,3115.0 2426.7,3097.0 2426.7,3133.0"/><polygon points="2496.8,3113.0 2463.0,3095.0 2463.0,3131.0"/><polygon points="2533.2,3103.5 2499.4,3085.5 2499.4,3121.5"/><polygon points="2569.5,3135.0 2535.7,3117.0 2535.7,3153.0"/><polygon points="2605.9,3135.5 2572.1,3117.5 2572.1,3153.5"/></g>
<polyline points="729.0,3556.3 801.7,3583.3 838.1,3565.0 874.4,3568.3 910.8,3633.3 947.2,3579.0 983.5,3542.3 1019.9,3585.0 1056.2,3550.0 1092.6,3520.3 1129.0,3295.3 1165.3,3409.0 1201.7,3409.0 1238.0,3377.3 1274.4,3559.3 1310.8,3583.3 1347.1,3558.3 1383.5,3571.0 1419.8,3577.3 1528.9,3468.0 1638.0,3597.3 1674.4,3587.3 1710.7,3604.0 1747.1,3600.0 1783.4,3616.3 1819.8,3600.0 1856.2,3599.0 1892.5,3592.3 1928.9,3576.0 1965.2,3556.3 2001.6,3557.3 2038.0,3550.3 2074.3,3559.3 2110.7,3529.3 2147.0,3590.0 2183.4,3594.0 2219.8,3598.0 2256.1,3594.3 2292.5,3582.3 2328.8,3577.3 2365.2,3564.0 2401.6,3538.0 2437.9,3576.0 2474.3,3548.0 2510.6,3568.3 2547.0,3577.3 2583.4,3572.3" fill="none" stroke="#1c1c1c" stroke-width="2.3" stroke-linejoin="round"/>
<g fill="#111111"><polygon points="729.0,3538.6 745.8,3550.8 739.4,3570.6 718.6,3570.6 712.2,3550.8"/><polygon points="801.7,3565.6 818.6,3577.8 812.1,3597.6 791.3,3597.6 784.9,3577.8"/><polygon points="838.1,3547.3 854.9,3559.5 848.5,3579.3 827.7,3579.3 821.2,3559.5"/><polygon points="874.4,3550.6 891.3,3562.8 884.8,3582.6 864.0,3582.6 857.6,3562.8"/><polygon points="910.8,3615.6 927.6,3627.8 921.2,3647.6 900.4,3647.6 894.0,3627.8"/><polygon points="947.2,3561.3 964.0,3573.5 957.6,3593.3 936.8,3593.3 930.3,3573.5"/><polygon points="983.5,3524.6 1000.4,3536.8 993.9,3556.6 973.1,3556.6 966.7,3536.8"/><polygon points="1019.9,3567.3 1036.7,3579.5 1030.3,3599.3 1009.5,3599.3 1003.0,3579.5"/><polygon points="1056.2,3532.3 1073.1,3544.5 1066.6,3564.3 1045.8,3564.3 1039.4,3544.5"/><polygon points="1092.6,3502.6 1109.4,3514.8 1103.0,3534.6 1082.2,3534.6 1075.8,3514.8"/><polygon points="1129.0,3277.6 1145.8,3289.8 1139.4,3309.6 1118.6,3309.6 1112.1,3289.8"/><polygon points="1165.3,3391.3 1182.2,3403.5 1175.7,3423.3 1154.9,3423.3 1148.5,3403.5"/><polygon points="1201.7,3391.3 1218.5,3403.5 1212.1,3423.3 1191.3,3423.3 1184.8,3403.5"/><polygon points="1238.0,3359.6 1254.9,3371.8 1248.4,3391.6 1227.6,3391.6 1221.2,3371.8"/><polygon points="1274.4,3541.6 1291.2,3553.8 1284.8,3573.6 1264.0,3573.6 1257.6,3553.8"/><polygon points="1310.8,3565.6 1327.6,3577.8 1321.2,3597.6 1300.4,3597.6 1293.9,3577.8"/><polygon points="1347.1,3540.6 1364.0,3552.8 1357.5,3572.6 1336.7,3572.6 1330.3,3552.8"/><polygon points="1383.5,3553.3 1400.3,3565.5 1393.9,3585.3 1373.1,3585.3 1366.6,3565.5"/><polygon points="1419.8,3559.6 1436.7,3571.8 1430.2,3591.6 1409.4,3591.6 1403.0,3571.8"/><polygon points="1528.9,3450.3 1545.8,3462.5 1539.3,3482.3 1518.5,3482.3 1512.1,3462.5"/><polygon points="1638.0,3579.6 1654.8,3591.8 1648.4,3611.6 1627.6,3611.6 1621.2,3591.8"/><polygon points="1674.4,3569.6 1691.2,3581.8 1684.8,3601.6 1664.0,3601.6 1657.5,3581.8"/><polygon points="1710.7,3586.3 1727.6,3598.5 1721.1,3618.3 1700.3,3618.3 1693.9,3598.5"/><polygon points="1747.1,3582.3 1763.9,3594.5 1757.5,3614.3 1736.7,3614.3 1730.2,3594.5"/><polygon points="1783.4,3598.6 1800.3,3610.8 1793.8,3630.6 1773.0,3630.6 1766.6,3610.8"/><polygon points="1819.8,3582.3 1836.6,3594.5 1830.2,3614.3 1809.4,3614.3 1803.0,3594.5"/><polygon points="1856.2,3581.3 1873.0,3593.5 1866.6,3613.3 1845.8,3613.3 1839.3,3593.5"/><polygon points="1892.5,3574.6 1909.4,3586.8 1902.9,3606.6 1882.1,3606.6 1875.7,3586.8"/><polygon points="1928.9,3558.3 1945.7,3570.5 1939.3,3590.3 1918.5,3590.3 1912.0,3570.5"/><polygon points="1965.2,3538.6 1982.1,3550.8 1975.6,3570.6 1954.8,3570.6 1948.4,3550.8"/><polygon points="2001.6,3539.6 2018.4,3551.8 2012.0,3571.6 1991.2,3571.6 1984.8,3551.8"/><polygon points="2038.0,3532.6 2054.8,3544.8 2048.4,3564.6 2027.6,3564.6 2021.1,3544.8"/><polygon points="2074.3,3541.6 2091.2,3553.8 2084.7,3573.6 2063.9,3573.6 2057.5,3553.8"/><polygon points="2110.7,3511.6 2127.5,3523.8 2121.1,3543.6 2100.3,3543.6 2093.8,3523.8"/><polygon points="2147.0,3572.3 2163.9,3584.5 2157.4,3604.3 2136.6,3604.3 2130.2,3584.5"/><polygon points="2183.4,3576.3 2200.2,3588.5 2193.8,3608.3 2173.0,3608.3 2166.6,3588.5"/><polygon points="2219.8,3580.3 2236.6,3592.5 2230.2,3612.3 2209.4,3612.3 2202.9,3592.5"/><polygon points="2256.1,3576.6 2273.0,3588.8 2266.5,3608.6 2245.7,3608.6 2239.3,3588.8"/><polygon points="2292.5,3564.6 2309.3,3576.8 2302.9,3596.6 2282.1,3596.6 2275.6,3576.8"/><polygon points="2328.8,3559.6 2345.7,3571.8 2339.2,3591.6 2318.4,3591.6 2312.0,3571.8"/><polygon points="2365.2,3546.3 2382.0,3558.5 2375.6,3578.3 2354.8,3578.3 2348.4,3558.5"/><polygon points="2401.6,3520.3 2418.4,3532.5 2412.0,3552.3 2391.2,3552.3 2384.7,3532.5"/><polygon points="2437.9,3558.3 2454.8,3570.5 2448.3,3590.3 2427.5,3590.3 2421.1,3570.5"/><polygon points="2474.3,3530.3 2491.1,3542.5 2484.7,3562.3 2463.9,3562.3 2457.4,3542.5"/><polygon points="2510.6,3550.6 2527.5,3562.8 2521.0,3582.6 2500.2,3582.6 2493.8,3562.8"/><polygon points="2547.0,3559.6 2563.8,3571.8 2557.4,3591.6 2536.6,3591.6 2530.2,3571.8"/><polygon points="2583.4,3554.6 2600.2,3566.8 2593.8,3586.6 2573.0,3586.6 2566.5,3566.8"/></g>
<polyline points="729.0,3924.0 801.7,4039.0 838.1,3981.5 874.4,3981.5 910.8,4096.5 947.2,4039.0 983.5,3981.5 1019.9,4039.0 1056.2,3981.5 1092.6,3866.5 1129.0,3751.5 1165.3,3924.0 1201.7,3924.0 1238.0,3866.5 1274.4,3981.5 1310.8,4039.0 1347.1,3981.5 1383.5,4039.0 1419.8,4039.0 1528.9,3981.5 1638.0,4039.0 1674.4,4039.0 1710.7,4039.0 1747.1,4096.5 1783.4,4096.5 1819.8,4096.5 1856.2,4096.5 1892.5,4039.0 1928.9,4039.0 1965.2,3981.5 2001.6,3981.5 2038.0,3981.5 2074.3,3981.5 2110.7,3809.0 2147.0,4039.0 2183.4,4039.0 2219.8,4039.0 2256.1,4039.0 2292.5,4039.0 2328.8,3981.5 2365.2,3981.5 2401.6,3924.0 2437.9,4039.0 2474.3,3924.0 2510.6,3981.5 2547.0,4039.0 2583.4,4039.0" fill="none" stroke="#1c1c1c" stroke-width="2.3" stroke-linejoin="round"/>
<g fill="#111111"><polygon points="707.5,3924.0 741.3,3906.0 741.3,3942.0"/><polygon points="780.2,4039.0 814.0,4021.0 814.0,4057.0"/><polygon points="816.5,3981.5 850.3,3963.5 850.3,3999.5"/><polygon points="852.9,3981.5 886.7,3963.5 886.7,3999.5"/><polygon points="889.3,4096.5 923.1,4078.5 923.1,4114.5"/><polygon points="925.6,4039.0 959.4,4021.0 959.4,4057.0"/><polygon points="962.0,3981.5 995.8,3963.5 995.8,3999.5"/><polygon points="998.3,4039.0 1032.1,4021.0 1032.1,4057.0"/><polygon points="1034.7,3981.5 1068.5,3963.5 1068.5,3999.5"/><polygon points="1071.1,3866.5 1104.9,3848.5 1104.9,3884.5"/><polygon points="1107.4,3751.5 1141.2,3733.5 1141.2,3769.5"/><polygon points="1143.8,3924.0 1177.6,3906.0 1177.6,3942.0"/><polygon points="1180.1,3924.0 1213.9,3906.0 1213.9,3942.0"/><polygon points="1216.5,3866.5 1250.3,3848.5 1250.3,3884.5"/><polygon points="1252.9,3981.5 1286.7,3963.5 1286.7,3999.5"/><polygon points="1289.2,4039.0 1323.0,4021.0 1323.0,4057.0"/><polygon points="1325.6,3981.5 1359.4,3963.5 1359.4,3999.5"/><polygon points="1361.9,4039.0 1395.7,4021.0 1395.7,4057.0"/><polygon points="1398.3,4039.0 1432.1,4021.0 1432.1,4057.0"/><polygon points="1507.4,3981.5 1541.2,3963.5 1541.2,3999.5"/><polygon points="1616.5,4039.0 1650.3,4021.0 1650.3,4057.0"/><polygon points="1652.8,4039.0 1686.6,4021.0 1686.6,4057.0"/><polygon points="1689.2,4039.0 1723.0,4021.0 1723.0,4057.0"/><polygon points="1725.5,4096.5 1759.3,4078.5 1759.3,4114.5"/><polygon points="1761.9,4096.5 1795.7,4078.5 1795.7,4114.5"/><polygon points="1798.3,4096.5 1832.1,4078.5 1832.1,4114.5"/><polygon points="1834.6,4096.5 1868.4,4078.5 1868.4,4114.5"/><polygon points="1871.0,4039.0 1904.8,4021.0 1904.8,4057.0"/><polygon points="1907.3,4039.0 1941.1,4021.0 1941.1,4057.0"/><polygon points="1943.7,3981.5 1977.5,3963.5 1977.5,3999.5"/><polygon points="1980.1,3981.5 2013.9,3963.5 2013.9,3999.5"/><polygon points="2016.4,3981.5 2050.2,3963.5 2050.2,3999.5"/><polygon points="2052.8,3981.5 2086.6,3963.5 2086.6,3999.5"/><polygon points="2089.1,3809.0 2122.9,3791.0 2122.9,3827.0"/><polygon points="2125.5,4039.0 2159.3,4021.0 2159.3,4057.0"/><polygon points="2161.9,4039.0 2195.7,4021.0 2195.7,4057.0"/><polygon points="2198.2,4039.0 2232.0,4021.0 2232.0,4057.0"/><polygon points="2234.6,4039.0 2268.4,4021.0 2268.4,4057.0"/><polygon points="2270.9,4039.0 2304.7,4021.0 2304.7,4057.0"/><polygon points="2307.3,3981.5 2341.1,3963.5 2341.1,3999.5"/><polygon points="2343.7,3981.5 2377.5,3963.5 2377.5,3999.5"/><polygon points="2380.0,3924.0 2413.8,3906.0 2413.8,3942.0"/><polygon points="2416.4,4039.0 2450.2,4021.0 2450.2,4057.0"/><polygon points="2452.7,3924.0 2486.5,3906.0 2486.5,3942.0"/><polygon points="2489.1,3981.5 2522.9,3963.5 2522.9,3999.5"/><polygon points="2525.5,4039.0 2559.3,4021.0 2559.3,4057.0"/><polygon points="2561.8,4039.0 2595.6,4021.0 2595.6,4057.0"/></g>
<line x1="473.10" y1="1064.20" x2="2710.10" y2="1064.20" stroke="#211d1e" stroke-width="3" />
<line x1="473.10" y1="4131.00" x2="2710.10" y2="4131.00" stroke="#211d1e" stroke-width="3" />
<line x1="474.60" y1="1064.20" x2="474.60" y2="1150.60" stroke="#211d1e" stroke-width="3" />
<line x1="474.60" y1="1160.40" x2="474.60" y2="4131.00" stroke="#211d1e" stroke-width="3" />
<line x1="2708.60" y1="1064.20" x2="2708.60" y2="1150.60" stroke="#211d1e" stroke-width="3" />
<line x1="2708.60" y1="1160.40" x2="2708.60" y2="4131.00" stroke="#211d1e" stroke-width="3" />
<line x1="448.40" y1="1154.90" x2="498.20" y2="1146.50" stroke="#211d1e" stroke-width="3.0" />
<line x1="448.40" y1="1164.40" x2="498.20" y2="1155.90" stroke="#211d1e" stroke-width="3.0" />
<line x1="2684.10" y1="1154.90" x2="2733.90" y2="1146.50" stroke="#211d1e" stroke-width="3.0" />
<line x1="2684.10" y1="1164.40" x2="2733.90" y2="1155.90" stroke="#211d1e" stroke-width="3.0" />
<line x1="462.60" y1="1108.80" x2="474.60" y2="1108.80" stroke="#211d1e" stroke-width="3" />
<text x="444.9" y="1123.4" font-size="57" text-anchor="end" >520</text>
<line x1="462.60" y1="1200.20" x2="474.60" y2="1200.20" stroke="#211d1e" stroke-width="3" />
<text x="444.9" y="1214.8" font-size="57" text-anchor="end" >408</text>
<line x1="462.60" y1="1316.20" x2="474.60" y2="1316.20" stroke="#211d1e" stroke-width="3" />
<text x="444.9" y="1330.8" font-size="57" text-anchor="end" >374</text>
<line x1="462.60" y1="1433.00" x2="474.60" y2="1433.00" stroke="#211d1e" stroke-width="3" />
<text x="444.9" y="1447.6" font-size="57" text-anchor="end" >340</text>
<line x1="462.60" y1="1970.00" x2="474.60" y2="1970.00" stroke="#211d1e" stroke-width="3" />
<text x="444.9" y="1984.6" font-size="57" text-anchor="end" >1<tspan dx="-2.5"> </tspan>200</text>
<line x1="462.60" y1="2080.00" x2="474.60" y2="2080.00" stroke="#211d1e" stroke-width="3" />
<text x="444.9" y="2094.6" font-size="57" text-anchor="end" >960</text>
<line x1="462.60" y1="2190.50" x2="474.60" y2="2190.50" stroke="#211d1e" stroke-width="3" />
<text x="444.9" y="2205.1" font-size="57" text-anchor="end" >720</text>
<line x1="462.60" y1="2301.50" x2="474.60" y2="2301.50" stroke="#211d1e" stroke-width="3" />
<text x="444.9" y="2316.1" font-size="57" text-anchor="end" >480</text>
<line x1="462.60" y1="2847.00" x2="474.60" y2="2847.00" stroke="#211d1e" stroke-width="3" />
<text x="444.9" y="2861.6" font-size="57" text-anchor="end" >2.5</text>
<line x1="462.60" y1="2958.00" x2="474.60" y2="2958.00" stroke="#211d1e" stroke-width="3" />
<text x="444.9" y="2972.6" font-size="57" text-anchor="end" >2.0</text>
<line x1="462.60" y1="3069.00" x2="474.60" y2="3069.00" stroke="#211d1e" stroke-width="3" />
<text x="444.9" y="3083.6" font-size="57" text-anchor="end" >1.5</text>
<line x1="462.60" y1="3180.00" x2="474.60" y2="3180.00" stroke="#211d1e" stroke-width="3" />
<text x="444.9" y="3194.6" font-size="57" text-anchor="end" >1.0</text>
<line x1="462.60" y1="3782.20" x2="474.60" y2="3782.20" stroke="#211d1e" stroke-width="3" />
<text x="444.9" y="3796.8" font-size="57" text-anchor="end" >0.095</text>
<line x1="462.60" y1="3891.30" x2="474.60" y2="3891.30" stroke="#211d1e" stroke-width="3" />
<text x="444.9" y="3905.9" font-size="57" text-anchor="end" >0.076</text>
<line x1="462.60" y1="4000.30" x2="474.60" y2="4000.30" stroke="#211d1e" stroke-width="3" />
<text x="444.9" y="4014.9" font-size="57" text-anchor="end" >0.057</text>
<line x1="462.60" y1="4109.30" x2="474.60" y2="4109.30" stroke="#211d1e" stroke-width="3" />
<text x="444.9" y="4123.9" font-size="57" text-anchor="end" >0.038</text>
<line x1="2708.60" y1="1503.50" x2="2720.60" y2="1503.50" stroke="#211d1e" stroke-width="3" />
<text x="2735.8" y="1517.9" font-size="57" text-anchor="start" >900</text>
<line x1="2708.60" y1="1613.50" x2="2720.60" y2="1613.50" stroke="#211d1e" stroke-width="3" />
<text x="2735.8" y="1627.9" font-size="57" text-anchor="start" >750</text>
<line x1="2708.60" y1="1723.00" x2="2720.60" y2="1723.00" stroke="#211d1e" stroke-width="3" />
<text x="2735.8" y="1737.4" font-size="57" text-anchor="start" >600</text>
<line x1="2708.60" y1="1832.70" x2="2720.60" y2="1832.70" stroke="#211d1e" stroke-width="3" />
<text x="2735.8" y="1847.1" font-size="57" text-anchor="start" >450</text>
<line x1="2708.60" y1="1943.00" x2="2720.60" y2="1943.00" stroke="#211d1e" stroke-width="3" />
<text x="2735.8" y="1957.4" font-size="57" text-anchor="start" >300</text>
<line x1="2708.60" y1="2413.30" x2="2720.60" y2="2413.30" stroke="#211d1e" stroke-width="3" />
<text x="2735.8" y="2427.7" font-size="57" text-anchor="start" >38.5</text>
<line x1="2708.60" y1="2523.50" x2="2720.60" y2="2523.50" stroke="#211d1e" stroke-width="3" />
<text x="2735.8" y="2537.9" font-size="57" text-anchor="start" >30.8</text>
<line x1="2708.60" y1="2634.00" x2="2720.60" y2="2634.00" stroke="#211d1e" stroke-width="3" />
<text x="2735.8" y="2648.4" font-size="57" text-anchor="start" >23.1</text>
<line x1="2708.60" y1="2744.20" x2="2720.60" y2="2744.20" stroke="#211d1e" stroke-width="3" />
<text x="2735.8" y="2758.6" font-size="57" text-anchor="start" >15.4</text>
<line x1="2708.60" y1="3352.70" x2="2720.60" y2="3352.70" stroke="#211d1e" stroke-width="3" />
<text x="2735.8" y="3367.1" font-size="57" text-anchor="start" >2.8</text>
<line x1="2708.60" y1="3462.00" x2="2720.60" y2="3462.00" stroke="#211d1e" stroke-width="3" />
<text x="2735.8" y="3476.4" font-size="57" text-anchor="start" >2.1</text>
<line x1="2708.60" y1="3571.40" x2="2720.60" y2="3571.40" stroke="#211d1e" stroke-width="3" />
<text x="2735.8" y="3585.8" font-size="57" text-anchor="start" >1.4</text>
<line x1="2708.60" y1="3680.80" x2="2720.60" y2="3680.80" stroke="#211d1e" stroke-width="3" />
<text x="2735.8" y="3695.2" font-size="57" text-anchor="start" >0.7</text>
<line x1="764.50" y1="4131.00" x2="764.50" y2="4143.00" stroke="#211d1e" stroke-width="3" />
<text x="761.6" y="4202.8" font-size="57" text-anchor="middle" >2018-07</text>
<line x1="982.50" y1="4131.00" x2="982.50" y2="4143.00" stroke="#211d1e" stroke-width="3" />
<text x="979.8" y="4202.8" font-size="57" text-anchor="middle" >2019-01</text>
<line x1="1200.50" y1="4131.00" x2="1200.50" y2="4143.00" stroke="#211d1e" stroke-width="3" />
<text x="1198.0" y="4202.8" font-size="57" text-anchor="middle" >2019-07</text>
<line x1="1418.50" y1="4131.00" x2="1418.50" y2="4143.00" stroke="#211d1e" stroke-width="3" />
<text x="1416.2" y="4202.8" font-size="57" text-anchor="middle" >2020-01</text>
<line x1="1636.50" y1="4131.00" x2="1636.50" y2="4143.00" stroke="#211d1e" stroke-width="3" />
<text x="1634.4" y="4202.8" font-size="57" text-anchor="middle" >2020-07</text>
<line x1="1854.50" y1="4131.00" x2="1854.50" y2="4143.00" stroke="#211d1e" stroke-width="3" />
<text x="1852.6" y="4202.8" font-size="57" text-anchor="middle" >2021-01</text>
<line x1="2072.50" y1="4131.00" x2="2072.50" y2="4143.00" stroke="#211d1e" stroke-width="3" />
<text x="2070.8" y="4202.8" font-size="57" text-anchor="middle" >2021-07</text>
<line x1="2290.50" y1="4131.00" x2="2290.50" y2="4143.00" stroke="#211d1e" stroke-width="3" />
<text x="2289.0" y="4202.8" font-size="57" text-anchor="middle" >2022-01</text>
<line x1="2508.50" y1="4131.00" x2="2508.50" y2="4143.00" stroke="#211d1e" stroke-width="3" />
<text x="2507.2" y="4202.8" font-size="57" text-anchor="middle" >2022-07</text>
<text x="1457.45" y="4281.28" font-size="56" letter-spacing="-0.1" font-family="'Liberation Serif', 'Noto Serif CJK SC', serif" fill="#211d1e">采集时间</text>
<text x="518.3" y="1150.0" font-size="57" text-anchor="start" >b</text>
<text x="518.3" y="1590.3" font-size="57" text-anchor="start" >c</text>
<text x="518.3" y="2011.5" font-size="57" text-anchor="start" >d</text>
<text x="518.3" y="2467.3" font-size="57" text-anchor="start" >e</text>
<text x="518.3" y="2892.0" font-size="57" text-anchor="start" >f</text>
<text x="518.3" y="3334.4" font-size="57" text-anchor="start" >g</text>
<text x="518.3" y="3764.9" font-size="57" text-anchor="start" >h</text>
<text transform="translate(333.2,1261.5) rotate(-90)" font-size="56" text-anchor="middle">Ca/10<tspan font-size="33.5" dy="-19.5">3</tspan><tspan dy="19.5"> </tspan>μg·g<tspan font-size="33.5" dy="-19.5">−1</tspan></text>
<text transform="translate(300.0,2134.5) rotate(-90)" font-size="56" text-anchor="middle">Sr/μg·g<tspan font-size="33.5" dy="-19.5">−1</tspan></text>
<text transform="translate(333.5,3020.0) rotate(-90)" font-size="56" text-anchor="middle">Mg/Ca (10<tspan font-size="33.5" dy="-19.5">−3</tspan><tspan dy="19.5">)</tspan></text>
<text transform="translate(293.0,3947.5) rotate(-90)" font-size="56" text-anchor="middle">Ba/Ca (10<tspan font-size="33.5" dy="-19.5">−3</tspan><tspan dy="19.5">)</tspan></text>
<text transform="translate(2907.0,1724.0) rotate(-90)" font-size="56" text-anchor="middle">Mg/μg·g<tspan font-size="33.5" dy="-19.5">−1</tspan></text>
<text transform="translate(2907.0,2591.0) rotate(-90)" font-size="56" text-anchor="middle">Ba/μg·g<tspan font-size="33.5" dy="-19.5">−1</tspan></text>
<text transform="translate(2906.0,3520.5) rotate(-90)" font-size="56" text-anchor="middle">Sr/Ca (10<tspan font-size="33.5" dy="-19.5">−3</tspan><tspan dy="19.5">)</tspan></text>
</svg>
</body></html>
